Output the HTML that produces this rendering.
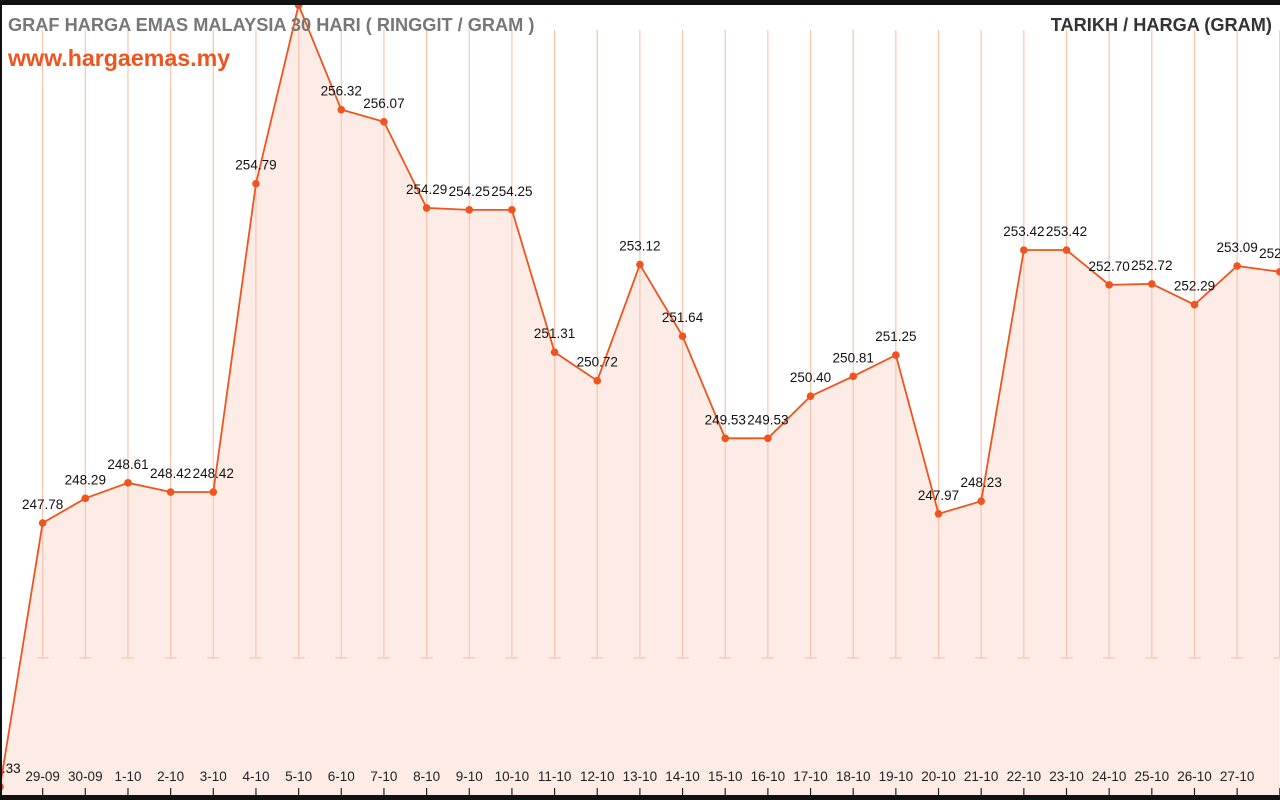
<!DOCTYPE html>
<html><head><meta charset="utf-8"><style>
html,body{margin:0;padding:0;background:#fff;width:1280px;height:800px;overflow:hidden}
svg{display:block;font-family:"Liberation Sans",sans-serif}
</style></head><body>
<svg id="chart" width="1280" height="800"></svg>
<script>
const dates=["28-09","29-09","30-09","1-10","2-10","3-10","4-10","5-10","6-10","7-10","8-10","9-10","10-10","11-10","12-10","13-10","14-10","15-10","16-10","17-10","18-10","19-10","20-10","21-10","22-10","23-10","24-10","25-10","26-10","27-10","28-10"];
const prices=[242.33,247.78,248.29,248.61,248.42,248.42,254.79,258.48,256.32,256.07,254.29,254.25,254.25,251.31,250.72,253.12,251.64,249.53,249.53,250.40,250.81,251.25,247.97,248.23,253.42,253.42,252.70,252.72,252.29,253.09,252.97];
const NS="http://www.w3.org/2000/svg";
const svg=document.getElementById('chart');
const xAt=i=>i*42.66;
const yAt=v=>523-(v-247.78)*48.4;
function mk(tag,attrs,parent){const e=document.createElementNS(NS,tag);for(const k in attrs)e.setAttribute(k,attrs[k]);(parent||svg).appendChild(e);return e;}
let d="M"+xAt(0)+",795";
prices.forEach((v,i)=>{d+=" L"+xAt(i)+","+yAt(v);});
d+=" L"+xAt(prices.length-1)+",795 Z";
const area=mk('path',{d:d,fill:'#fdece6'});


dates.forEach((t,i)=>{
  const x=xAt(i);
  const g=mk('line',{x1:x,x2:x,y1:30,y2:658,stroke:'#f9c3b0','stroke-width':1.2});
  
  
  mk('line',{x1:x-6,x2:x+6,y1:658,y2:658,stroke:'#f9c3b0','stroke-width':1.2});
  const tk=mk('line',{x1:x,x2:x,y1:788,y2:795,stroke:'#222','stroke-width':1.2});
  
  
  if(i>0 && i<dates.length-1){
    const lb=mk('text',{x:x,y:781,'text-anchor':'middle','font-size':13.5,fill:'#222'});
    lb.textContent=t;
    
    
  }
});
const pts=prices.map((v,i)=>xAt(i)+","+yAt(v)).join(" ");
const ln=mk('polyline',{points:pts,fill:'none',stroke:'#f0541e','stroke-width':1.8});


prices.forEach((v,i)=>{
  const c=mk('circle',{cx:xAt(i),cy:yAt(v),r:3.8,fill:'#f0541e'});
  
  
  const t=mk('text',{x:xAt(i),y:yAt(v)-14,'text-anchor':'middle','font-size':13.5,fill:'#111'});
  t.textContent=v.toFixed(2);
  
  
});
mk('rect',{x:0,y:0,width:1280,height:5,fill:'#111'});
mk('rect',{x:0,y:795,width:1280,height:5,fill:'#111'});
mk('rect',{x:0,y:0,width:2,height:800,fill:'#111'});
const t1=mk('text',{x:8,y:31,'font-size':18.2,'font-weight':'bold',fill:'#777'});
t1.textContent="GRAF HARGA EMAS MALAYSIA 30 HARI ( RINGGIT / GRAM )";


const t2=mk('text',{x:8,y:66,'font-size':23.2,'font-weight':'bold',fill:'#f0541e'});
t2.textContent="www.hargaemas.my";


const t3=mk('text',{x:1272,y:31,'font-size':18.2,'font-weight':'bold',fill:'#333','text-anchor':'end'});
t3.textContent="TARIKH / HARGA (GRAM)";


</script>
</body></html>
